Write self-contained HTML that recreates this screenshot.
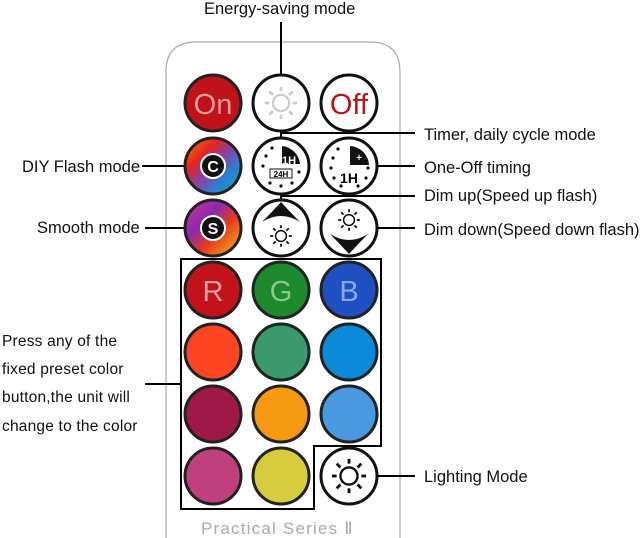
<!DOCTYPE html>
<html><head><style>
html,body{margin:0;padding:0;background:#fff;}
svg{display:block;font-family:"Liberation Sans",Arial,sans-serif;}
</style></head><body>
<svg width="640" height="538" viewBox="0 0 640 538" xmlns="http://www.w3.org/2000/svg">
<defs>
<g id="sun">
 <circle r="9" fill="none" stroke-width="2.5"/>
 <g stroke-width="3">
  <line x1="0" y1="-13" x2="0" y2="-18"/><line x1="0" y1="13" x2="0" y2="18"/>
  <line x1="-13" y1="0" x2="-18" y2="0"/><line x1="13" y1="0" x2="18" y2="0"/>
  <line x1="9" y1="9" x2="13" y2="13"/><line x1="-9" y1="9" x2="-13" y2="13"/>
  <line x1="9" y1="-9" x2="13" y2="-13"/><line x1="-9" y1="-9" x2="-13" y2="-13"/>
 </g>
</g>
<linearGradient id="wc" x1="0" y1="0" x2="1" y2="1"><stop offset="0" stop-color="#f28a1a"/><stop offset="0.3" stop-color="#e8231e"/><stop offset="0.5" stop-color="#8e3fa0"/><stop offset="0.75" stop-color="#1e88d8"/><stop offset="1" stop-color="#2aa84a"/></linearGradient>
<linearGradient id="sc" x1="0" y1="0" x2="1" y2="1"><stop offset="0" stop-color="#e43090"/><stop offset="0.35" stop-color="#8a2ab0"/><stop offset="0.6" stop-color="#e83a1e"/><stop offset="1" stop-color="#f2c21a"/></linearGradient>
</defs>
<path d="M166 538 L166 72 Q166 42 196 42 L370 42 Q400 42 400 72 L400 538" fill="none" stroke="#aaa" stroke-width="1.2"/>
<g stroke="#000" stroke-width="2" fill="none">
 <line x1="281" y1="22" x2="281" y2="77"/>
 <polyline points="281,140 281,133 415,133"/>
 <line x1="377" y1="166" x2="415" y2="166"/>
 <polyline points="281,203 281,196 415,196"/>
 <line x1="377" y1="228" x2="415" y2="228"/>
 <line x1="142" y1="166" x2="186" y2="166"/>
 <line x1="145" y1="228" x2="186" y2="228"/>
 <line x1="145" y1="384" x2="181" y2="384"/>
 <line x1="377" y1="476" x2="415" y2="476"/>
 <path d="M181 259 L381 259 L381 446 L314 446 L314 509 L181 509 Z"/>
</g>
<circle cx="213" cy="103" r="28" fill="#c0121a" stroke="#222" stroke-width="3"/>
<text x="213" y="114" font-size="29" fill="#e59a9a" text-anchor="middle">On</text>
<circle cx="281" cy="103" r="28" fill="#fff" stroke="#111" stroke-width="3"/>
<use href="#sun" stroke="#ccc" transform="translate(281 103) scale(0.9)"/>
<circle cx="349" cy="103" r="28" fill="#fff" stroke="#111" stroke-width="3"/>
<text x="349" y="114" font-size="29" fill="#c0121a" text-anchor="middle">Off</text>
<circle cx="213" cy="166" r="28" fill="url(#wc)" stroke="#222" stroke-width="3"/>
<circle cx="213" cy="166" r="12" fill="#111" stroke="#fff" stroke-width="2"/>
<text x="213" y="172" font-size="16" font-weight="bold" fill="#fff" text-anchor="middle">C</text>
<circle cx="281" cy="166" r="28" fill="#fff" stroke="#111" stroke-width="3"/>
<path d="M282 146 A20 20 0 0 1 300 164 L282 164 Z" fill="#111"/>
<text x="289" y="164" font-size="11" font-weight="bold" fill="#fff" text-anchor="middle">1H</text>
<rect x="270" y="169" width="22" height="9" fill="none" stroke="#111" stroke-width="1"/>
<text x="281" y="177" font-size="8" font-weight="bold" text-anchor="middle">24H</text>
<g fill="#111"><circle cx="266" cy="156" r="1.6"/><circle cx="263" cy="166" r="1.6"/><circle cx="272" cy="148" r="1.6"/><circle cx="270" cy="183" r="1.6"/><circle cx="281" cy="186" r="1.6"/><circle cx="292" cy="183" r="1.6"/><circle cx="299" cy="172" r="1.6"/></g>
<circle cx="349" cy="166" r="28" fill="#fff" stroke="#111" stroke-width="3"/>
<path d="M350 146 A20 20 0 0 1 369 165 L350 165 Z" fill="#111"/>
<text x="359" y="161" font-size="10" font-weight="bold" fill="#fff" text-anchor="middle">+</text>
<text x="349" y="183" font-size="14" font-weight="bold" text-anchor="middle">1H</text>
<g fill="#111"><circle cx="338" cy="149" r="1.6"/><circle cx="333" cy="158" r="1.6"/><circle cx="331" cy="168" r="1.6"/><circle cx="334" cy="178" r="1.6"/><circle cx="366" cy="178" r="1.6"/><circle cx="368" cy="168" r="1.6"/><circle cx="341" cy="186" r="1.6"/><circle cx="358" cy="186" r="1.6"/></g>
<circle cx="213" cy="228" r="28" fill="url(#sc)" stroke="#222" stroke-width="3"/>
<circle cx="213" cy="228" r="12" fill="#111" stroke="#fff" stroke-width="2"/>
<text x="213" y="234" font-size="16" font-weight="bold" fill="#fff" text-anchor="middle">S</text>
<circle cx="281" cy="228" r="28" fill="#fff" stroke="#111" stroke-width="3"/>
<path d="M262 222 Q272 212 281 202 Q290 212 300 222 Q281 210 262 222 Z" fill="#111"/>
<use href="#sun" stroke="#111" transform="translate(281 236) scale(0.6)"/>
<circle cx="349" cy="228" r="28" fill="#fff" stroke="#111" stroke-width="3"/>
<path d="M330 234 Q340 244 349 254 Q358 244 368 234 Q349 246 330 234 Z" fill="#111"/>
<use href="#sun" stroke="#111" transform="translate(349 220) scale(0.6)"/>
<g stroke="#222" stroke-width="3">
<circle cx="213" cy="290" r="28" fill="#c2131c"/>
<circle cx="281" cy="290" r="28" fill="#1e8a2e"/>
<circle cx="349" cy="290" r="28" fill="#1f4fc0"/>
<circle cx="213" cy="352" r="28" fill="#fd4522"/>
<circle cx="281" cy="352" r="28" fill="#3a9a6e"/>
<circle cx="349" cy="352" r="28" fill="#0a8ad8"/>
<circle cx="213" cy="414" r="28" fill="#9e1848"/>
<circle cx="281" cy="414" r="28" fill="#f59a10"/>
<circle cx="349" cy="414" r="28" fill="#4a98e0"/>
<circle cx="213" cy="476" r="28" fill="#c0407e"/>
<circle cx="281" cy="476" r="28" fill="#d6cc3c"/>
</g>
<text x="213" y="301" font-size="29" fill="#e8a0a0" text-anchor="middle">R</text>
<text x="281" y="301" font-size="29" fill="#8ac88a" text-anchor="middle">G</text>
<text x="349" y="301" font-size="29" fill="#8aa8e8" text-anchor="middle">B</text>
<circle cx="349" cy="476" r="28" fill="#fff" stroke="#111" stroke-width="3"/>
<use href="#sun" stroke="#111" transform="translate(349 476) scale(0.95)"/>
<g font-size="16.5" fill="#111">
<text x="204" y="14">Energy-saving mode</text>
<text x="424" y="140">Timer, daily cycle mode</text>
<text x="424" y="173">One-Off timing</text>
<text x="424" y="201">Dim up(Speed up flash)</text>
<text x="424" y="235">Dim down(Speed down flash)</text>
<text x="22" y="172">DIY Flash mode</text>
<text x="37" y="233">Smooth mode</text>
<text x="424" y="482">Lighting Mode</text>
</g>
<g font-size="15.5" fill="#111" letter-spacing="0.2">
<text x="2" y="346">Press any of the</text>
<text x="2" y="374">fixed preset color</text>
<text x="2" y="402">button,the unit will</text>
<text x="2" y="431">change to the color</text>
</g>
<text x="201" y="534" font-size="17" fill="#aaa" letter-spacing="1.2">Practical Series Ⅱ</text>
</svg>
</body></html>
